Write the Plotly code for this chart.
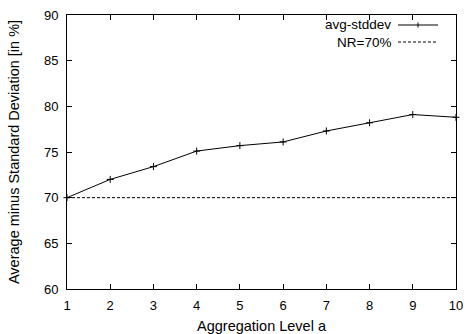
import plotly.graph_objects as go

levels = [1, 2, 3, 4, 5, 6, 7, 8, 9, 10]
avg_stddev = [70.0, 72.0, 73.4, 75.1, 75.7, 76.1, 77.3, 78.2, 79.1, 78.8]
nr_level = 70
x_ticks = list(range(1, 11))
y_ticks = [60, 65, 70, 75, 80, 85, 90]

FONT = "Liberation Sans, Arial, Helvetica, sans-serif"
FS_TICK = 13
FS_TITLE = 14.5
FS_LEG = 13.5

fig = go.Figure()
fig.add_trace(go.Scatter(
    x=levels, y=avg_stddev, mode="lines+markers",
    line=dict(color="black", width=1),
    marker=dict(symbol="cross-thin", size=5, line=dict(color="black", width=1)),
    showlegend=False, cliponaxis=False,
))
fig.add_trace(go.Scatter(
    x=[levels[0], levels[-1]], y=[nr_level, nr_level], mode="lines",
    line=dict(color="black", width=1, dash="3px,2px"),
    showlegend=False,
))

# manual gnuplot-style legend (text right-aligned, sample on the right)
leg = [("avg-stddev", "solid", True), ("NR=70%", "3px,2px", False)]
for i, (name, dash, mk) in enumerate(leg):
    ypix = 25 + i * 17
    ypaper = 1 - (ypix - 15) / 274
    fig.add_annotation(xref="paper", yref="paper", x=(392 - 67) / 389, y=ypaper,
                       text=name, showarrow=False, xanchor="right", yanchor="middle",
                       borderpad=0,
                       font=dict(family=FONT, size=FS_LEG, color="black"))
    fig.add_shape(type="line", xref="paper", yref="paper",
                  x0=(398 - 67) / 389, x1=(438 - 67) / 389, y0=ypaper, y1=ypaper,
                  line=dict(color="black", width=1, dash=dash))
    if mk:
        fig.add_shape(type="line", xref="paper", yref="paper",
                      x0=(418 - 67) / 389, x1=(418 - 67) / 389,
                      y0=ypaper - 2.5 / 274, y1=ypaper + 2.5 / 274,
                      line=dict(color="black", width=1))

axis_common = dict(
    showgrid=False, zeroline=False, showline=True, linecolor="black", linewidth=1,
    mirror="allticks", ticks="inside", ticklen=5, tickcolor="black", tickwidth=1,
    tickfont=dict(family=FONT, size=FS_TICK, color="black"), automargin=False,
)
fig.update_xaxes(range=[1, 10], tickvals=x_ticks, ticktext=[str(v) for v in x_ticks],
                 ticklabelstandoff=4,
                 title=dict(text="Aggregation Level a", font=dict(family=FONT, size=FS_TITLE, color="black"), standoff=11),
                 **axis_common)
fig.update_yaxes(range=[60, 90], tickvals=y_ticks, ticktext=[str(v) for v in y_ticks],
                 ticklabelstandoff=5,
                 title=dict(text="Average minus Standard Deviation [in %]", font=dict(family=FONT, size=FS_TITLE, color="black"), standoff=20),
                 **axis_common)

fig.update_layout(
    width=468, height=334,
    margin=dict(l=67, r=12, t=15, b=45),
    paper_bgcolor="white", plot_bgcolor="white",
    font=dict(family=FONT, size=FS_TICK, color="black"),
)
fig.write_html("out.html", config={"displayModeBar": False},
               post_script="document.body.style.margin='0';")
